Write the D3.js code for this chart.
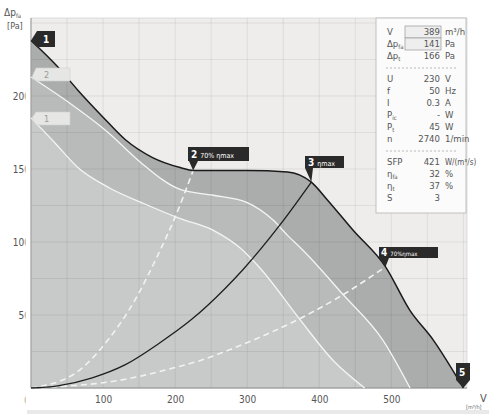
<!DOCTYPE html>
<html><head><meta charset="utf-8">
<script src="https://cdn.jsdelivr.net/npm/d3@7"></script>
<style>
body{margin:0;background:#fff}
svg{display:block}
text{font-family:"Liberation Sans Narrow","DejaVu Sans Condensed","Open Sans",sans-serif}
</style>
</head><body>
<svg id="chart" width="489" height="414"></svg>
<script>
// Fan characteristic curves: [volume flow m³/h, static pressure Pa]
const fanMax = [[0,238],[37,220],[65,204],[99,186],[131,170],[168,158],[207,151],[225,149],[300,149],[356,148],[389,141],[411,129],[447,108],[492,83],[526,53],[558,33],[600,0]];
const fanMid = [[0,213],[54,195],[107,175],[151,155],[207,136],[253,132],[300,127],[336,115],[357,104],[376,95],[433,64],[488,33],[526,0]];
const fanLow = [[0,185],[33,168],[65,151],[109,137],[158,126],[207,116],[253,108],[290,96],[318,82],[373,47],[419,19],[463,0]];

// System curves through the origin
const sysOptimum = [[0,0],[37,1.5],[85,7],[131,16],[176,30],[223,47],[269,68],[294,81],[346,112],[389,141]];
const sysLeft70 = [[0,0],[61,10],[107,33],[144,60],[176,91],[200,117],[225,149]];
const sysRight70 = [[0,0],[131,6],[200,14],[236,19],[269,25],[328,37],[375,48],[430,63],[492,83]];

// Axis ticks
const xTickLabels = [100,200,300,400,500];
const yTickLabels = [50,100,150,200];
const xGrid = [50,100,150,200,250,300,350,400,450,500,550,600];
const yGrid = [25,50,75,100,125,150,175,200,225,250];

// Operating data panel
const panelRows = [
  {name:"V", sub:"", value:"389", unit:"m³/h", boxed:true},
  {name:"Δp", sub:"fa", value:"141", unit:"Pa", boxed:true},
  {name:"Δp", sub:"t", value:"166", unit:"Pa"},
  {sep:true},
  {name:"U", sub:"", value:"230", unit:"V"},
  {name:"f", sub:"", value:"50", unit:"Hz"},
  {name:"I", sub:"", value:"0.3", unit:"A"},
  {name:"P", sub:"ic", value:"-", unit:"W"},
  {name:"P", sub:"t", value:"45", unit:"W"},
  {name:"n", sub:"", value:"2740", unit:"1/min"},
  {sep:true},
  {name:"SFP", sub:"", value:"421", unit:"W/(m³/s)"},
  {name:"η", sub:"fa", value:"32", unit:"%"},
  {name:"η", sub:"t", value:"37", unit:"%"},
  {name:"S", sub:"", value:"3", unit:""}
];

const svg = d3.select("#chart");
const x = d3.scaleLinear().domain([0,605]).range([31,467]);
const y = d3.scaleLinear().domain([0,253.4]).range([388,18]);

// the left tick labels are cut off just before the plot edge
svg.append("defs").append("clipPath").attr("id","leftClip")
  .append("rect").attr("x",0).attr("y",0).attr("width",25.5).attr("height",414);

const yAxis = svg.append("g").attr("clip-path","url(#leftClip)")
  .append("g").attr("transform","translate(30,0)")
  .call(d3.axisLeft(y).tickValues(yTickLabels).tickSize(0).tickPadding(0));
yAxis.select(".domain").remove();
yAxis.selectAll("text").attr("fill","#555").style("font-size","10px");

// plot background
svg.append("rect").attr("x",x(0)).attr("y",y(253.4))
  .attr("width",x(605)-x(0)).attr("height",y(0)-y(253.4))
  .attr("fill","#efedeb").attr("stroke","#d6d6d6").attr("stroke-width",0.8);

const area = d3.area().x(d=>x(d[0])).y0(y(0)).y1(d=>y(d[1])).curve(d3.curveMonotoneX);
const line = d3.line().x(d=>x(d[0])).y(d=>y(d[1])).curve(d3.curveMonotoneX);

svg.append("path").datum(fanMax).attr("d",area).attr("fill","#abadad");
svg.append("path").datum(fanMid).attr("d",area).attr("fill","#b9bbbb");
svg.append("path").datum(fanLow).attr("d",area).attr("fill","#c8caca");

// grid
const grid = svg.append("g").attr("stroke","#000").attr("stroke-opacity",0.07).attr("stroke-width",1);
grid.selectAll("line.v").data(xGrid).join("line").attr("class","v")
  .attr("x1",d=>x(d)).attr("x2",d=>x(d)).attr("y1",y(0)).attr("y2",y(253.4));
grid.selectAll("line.h").data(yGrid).join("line").attr("class","h")
  .attr("x1",x(0)).attr("x2",x(605)).attr("y1",d=>y(d)).attr("y2",d=>y(d));

// axis frame lines
svg.append("line").attr("x1",x(0)).attr("x2",x(0)).attr("y1",y(253.4)).attr("y2",y(0)).attr("stroke","#9a9a9a");
svg.append("line").attr("x1",x(0)).attr("x2",x(605)).attr("y1",y(0)).attr("y2",y(0)).attr("stroke","#8a8a8a");

// white fan curves
svg.append("path").datum(fanMid).attr("d",line).attr("fill","none").attr("stroke","#f4f4f4").attr("stroke-width",1.3);
svg.append("path").datum(fanLow).attr("d",line).attr("fill","none").attr("stroke","#f4f4f4").attr("stroke-width",1.3);

// system curves
const sysLine = d3.line().x(d=>x(d[0])).y(d=>y(d[1])).curve(d3.curveMonotoneX);
[sysLeft70, sysRight70].forEach(s=>{
  svg.append("path").datum(s).attr("d",sysLine).attr("fill","none")
    .attr("stroke","#f2f2f2").attr("stroke-width",1.6).attr("stroke-dasharray","6,4");
});
svg.append("path").datum(sysOptimum).attr("d",sysLine).attr("fill","none")
  .attr("stroke","#1e1e1e").attr("stroke-width",1.3);

// max fan curve
svg.append("path").datum(fanMax).attr("d",line).attr("fill","none")
  .attr("stroke","#1a1a1a").attr("stroke-width",1.5);

// x tick labels
const xAxis = svg.append("g").attr("transform",`translate(0,${y(0)+8})`)
  .call(d3.axisBottom(x).tickValues(xTickLabels).tickSize(0).tickPadding(0));
xAxis.select(".domain").remove();
xAxis.selectAll("text").attr("fill","#555").style("font-size","10px");
svg.append("g").attr("clip-path","url(#leftClip)")
  .append("text").attr("x",27).attr("y",404).attr("text-anchor","middle")
  .attr("fill","#666").style("font-size","10px").text("0");

// axis titles
const yt = svg.append("text").attr("x",4).attr("y",16).attr("fill","#555").style("font-size","10px");
yt.append("tspan").text("Δp");
yt.append("tspan").attr("dy",2).style("font-size","6px").text("fa");
svg.append("text").attr("x",7).attr("y",29).attr("fill","#555").style("font-size","9px").text("[Pa]");
svg.append("text").attr("x",480).attr("y",402).attr("fill","#555").style("font-size","11px").text("V");
svg.append("text").attr("x",466).attr("y",409).attr("fill","#666").style("font-size","5.5px").text("[m³/h]");
svg.append("rect").attr("x",27).attr("y",410).attr("width",462).attr("height",4).attr("fill","#e9e9e9");

// curve markers
function darkTag(pts, num, label, tx, ty, small){
  const g = svg.append("g");
  g.append("path").attr("d","M"+pts.map(p=>p.join(",")).join("L")+"Z").attr("fill","#2a2a2a");
  const t = g.append("text").attr("x",tx).attr("y",ty).attr("fill","#fff");
  t.append("tspan").style("font-size","10px").style("font-weight","bold").text(num);
  if(label) t.append("tspan").attr("dx",3).style("font-size",small+"px").text(label);
}
// 1: start of max curve
darkTag([[x(0),y(238)],[37,31],[55,31],[55,47],[37,47]],"1","",43,43);
// 2: 70 % ηmax
darkTag([[188,147],[249,147],[249,161],[198,161],[x(225),y(149)],[189,161],[188,161]],"2","70% ηmax",191,158,7);
// 3: ηmax
darkTag([[305,156],[344,156],[344,168],[313,168],[x(389),y(141)],[305,168]],"3","ηmax",308,166,7);
// 4: 70 % ηmax (right)
darkTag([[379,247],[438,247],[438,258],[389,258],[x(492),y(83)],[379,258]],"4","70%ηmax",381,256,6);
// 5: end of max curve
darkTag([[456,363],[470,363],[470,380],[x(600),y(0)],[456,380]],"5","",459,376);

function lightTag(yv, num, yTop, yBot){
  const g = svg.append("g");
  g.append("path").attr("d",`M${x(0)+1},${y(yv)}L36,${yTop}L70,${yTop}L70,${yBot}L36,${yBot}Z`)
    .attr("fill","#e6e6e4").attr("stroke","#d0d0d0").attr("stroke-width",0.6);
  g.append("text").attr("x",44).attr("y",(yTop+yBot)/2+3.5).attr("fill","#9a9a9a")
    .style("font-size","9px").text(num);
}
lightTag(213,"2",68,81);
lightTag(185,"1",112,125);

// operating data panel
const panel = svg.append("g");
panel.append("rect").attr("x",376).attr("y",18).attr("width",90).attr("height",195)
  .attr("fill","#fbfbfb").attr("stroke","#b5b5b5").attr("stroke-width",0.8);
let yy = 35;
panelRows.forEach(r=>{
  if(r.sep){
    panel.append("line").attr("x1",386).attr("x2",458).attr("y1",yy-3).attr("y2",yy-3)
      .attr("stroke","#aaa").attr("stroke-dasharray","2,2").attr("stroke-width",0.8);
    yy += 11; return;
  }
  if(r.boxed){
    panel.append("rect").attr("x",405).attr("y",yy-9).attr("width",36).attr("height",12)
      .attr("fill","#eeeeee").attr("stroke","#999").attr("stroke-width",0.7);
  }
  const n = panel.append("text").attr("x",387).attr("y",yy).attr("fill","#555").style("font-size","9.5px");
  n.append("tspan").text(r.name);
  if(r.sub) n.append("tspan").attr("dy",2).style("font-size","6px").text(r.sub);
  panel.append("text").attr("x",440).attr("y",yy).attr("text-anchor","end").attr("fill","#555")
    .style("font-size","9.5px").text(r.value);
  panel.append("text").attr("x",445).attr("y",yy).attr("fill","#555")
    .style("font-size",r.unit.length>5?"8px":"9.5px").text(r.unit);
  yy += 12;
});
</script>
</body></html>
